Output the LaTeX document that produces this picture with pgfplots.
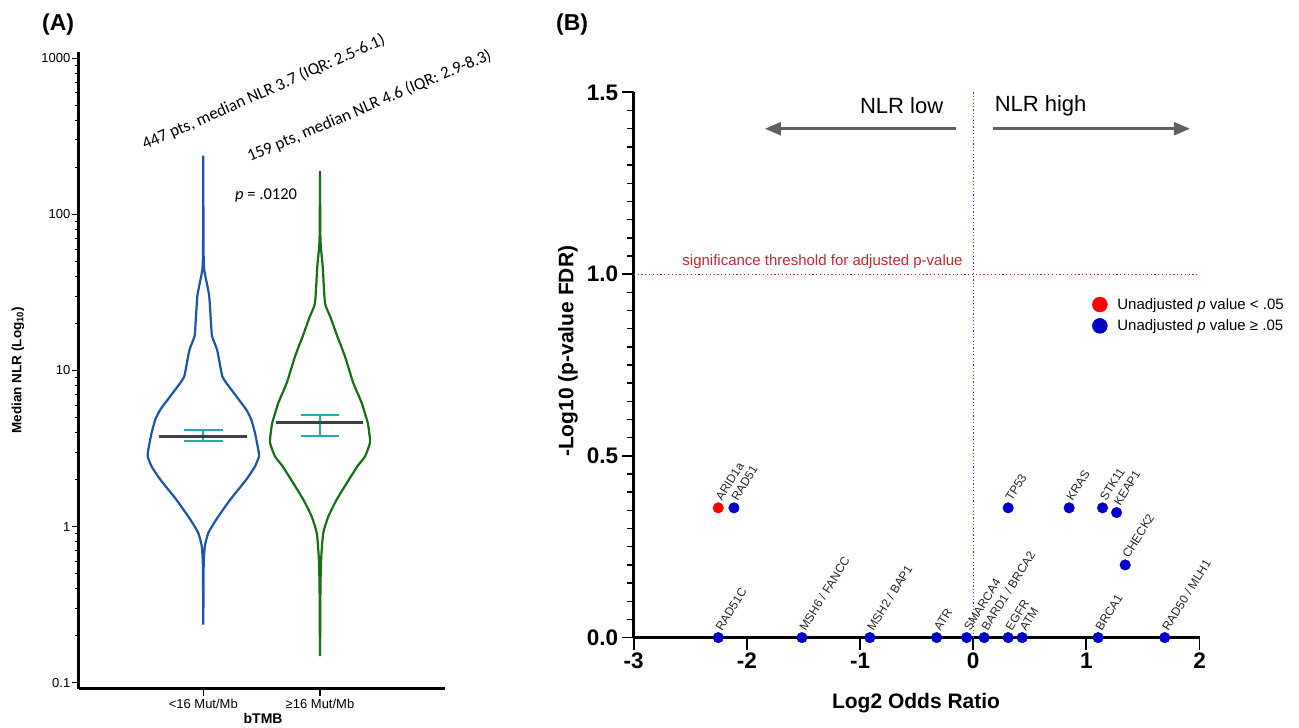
\documentclass[border=0pt]{standalone}
\usepackage{fontspec}
\setmainfont{Liberation Sans}
\newfontfamily\calib{Carlito}
\usepackage{pgfplots}
\usepackage{pgfplotstable}
\pgfplotsset{compat=1.18}
\usetikzlibrary{arrows.meta}

\definecolor{vblue}{RGB}{28,86,166}
\definecolor{vgreen}{RGB}{22,112,22}
\definecolor{eteal}{RGB}{35,170,170}
\definecolor{medgray}{RGB}{64,64,64}
\definecolor{ptblue}{RGB}{0,0,200}
\definecolor{ptred}{RGB}{255,0,0}
\definecolor{thrred}{RGB}{192,40,45}
\definecolor{arrgray}{RGB}{96,96,96}
\definecolor{zline}{RGB}{60,60,215}

% violin outline, group <16 Mut/Mb (x = position, y = NLR)
\pgfplotstableread{
x y
1.000 238
1.002 60
1.008 44.3
1.030 36.4
1.051 29.9
1.066 20.2
1.075 16.6
1.118 13.6
1.140 11.2
1.163 9.18
1.197 8.33
1.283 6.84
1.368 5.62
1.411 4.85
1.443 3.98
1.471 3.11
1.477 2.82
1.443 2.43
1.368 2.00
1.231 1.49
1.111 1.11
1.043 0.911
1.013 0.748
1.003 0.55
1.000 0.236
0.997 0.55
0.987 0.748
0.957 0.911
0.889 1.11
0.769 1.49
0.632 2.00
0.557 2.43
0.523 2.82
0.529 3.11
0.557 3.98
0.589 4.85
0.632 5.62
0.717 6.84
0.803 8.33
0.837 9.18
0.860 11.2
0.882 13.6
0.925 16.6
0.934 20.2
0.949 29.9
0.970 36.4
0.992 44.3
0.998 60
1.000 238
}\violinlow

% violin outline, group >=16 Mut/Mb
\pgfplotstableread{
x y
2.000 189
2.004 69
2.023 46.5
2.043 27.1
2.086 22.3
2.148 16.6
2.214 12.3
2.285 8.33
2.357 6.2
2.409 4.62
2.422 3.98
2.428 3.44
2.386 2.82
2.320 2.43
2.229 1.90
2.143 1.49
2.071 1.16
2.028 0.911
2.011 0.645
2.004 0.415
2.000 0.148
1.996 0.415
1.989 0.645
1.972 0.911
1.929 1.16
1.857 1.49
1.771 1.90
1.680 2.43
1.614 2.82
1.572 3.44
1.578 3.98
1.591 4.62
1.643 6.2
1.715 8.33
1.786 12.3
1.852 16.6
1.914 22.3
1.957 27.1
1.977 46.5
1.996 69
2.000 189
}\violinhigh

% volcano points
\pgfplotstableread{
x y label
-2.253 0.357 ARID1a
}\redpts

\pgfplotstableread{
x y label
-2.114 0.357 RAD51
0.309 0.357 TP53
0.848 0.357 KRAS
1.143 0.357 STK11
1.267 0.344 KEAP1
1.343 0.200 CHECK2
-2.253 0 RAD51C
-1.513 0 {MSH6 / FANCC}
-0.913 0 {MSH2 / BAP1}
-0.323 0 ATR
-0.058 0 SMARCA4
0.097 0 {BARD1 / BRCA2}
0.309 0 EGFR
0.433 0 ATM
1.104 0 BRCA1
1.693 0 {RAD50 / MLH1}
}\bluepts

\begin{document}
\begin{tikzpicture}[x=1pt,y=1pt]
\path[use as bounding box] (0,0) rectangle (1299,728);

% ---------------- Panel A ----------------
\begin{axis}[
  at={(79pt,39.3pt)}, anchor=south west, scale only axis,
  width=366pt, height=637pt,
  ymode=log, ymin=0.0916, ymax=1102,
  xmin=-0.065, xmax=3.071,
  axis lines=left,
  axis line style={line width=3pt,-},
  tick align=outside,
  xtick={1,2}, xticklabels={<16 Mut/Mb,≥16 Mut/Mb},
  ytick={0.1,1,10,100,1000}, yticklabels={0.1,1,10,100,1000},
  minor ytick={0.2,0.3,0.4,0.5,0.6,0.7,0.8,0.9,2,3,4,5,6,7,8,9,20,30,40,50,60,70,80,90,200,300,400,500,600,700,800,900},
  major tick length=7pt, minor tick length=4pt,
  tick style={line width=1.3pt,black},
  minor tick style={line width=1pt,black},
  tick label style={font=\fontsize{13}{15}\selectfont},
  yticklabel style={inner xsep=1.5pt},
  xlabel={\textbf{bTMB}},
  xlabel style={font=\fontsize{14}{16}\selectfont, at={(axis description cs:0.503,-0.046)}, anchor=center},
  ylabel={\textbf{Median NLR (Log\textsubscript{10})}},
  ylabel style={font=\fontsize{13.5}{15}\selectfont, at={(axis description cs:-0.167,0.5)}, anchor=center},
  clip=false,
]
\addplot[vblue, line width=2.2pt, smooth, tension=0.3] table[x=x,y=y]{\violinlow};
\addplot[vgreen, line width=2.2pt, smooth, tension=0.35] table[x=x,y=y]{\violinhigh};
% error bars (teal)
\addplot[eteal, line width=2pt] coordinates {(1,3.52) (1,4.14)};
\addplot[eteal, line width=2pt] coordinates {(0.835,4.14) (1.165,4.14)};
\addplot[eteal, line width=2pt] coordinates {(0.835,3.52) (1.165,3.52)};
\addplot[eteal, line width=2pt] coordinates {(2,3.82) (2,5.21)};
\addplot[eteal, line width=2pt] coordinates {(1.835,5.21) (2.165,5.21)};
\addplot[eteal, line width=2pt] coordinates {(1.835,3.82) (2.165,3.82)};
% medians
\addplot[medgray, line width=3pt] coordinates {(0.62,3.78) (1.375,3.78)};
\addplot[medgray, line width=3pt] coordinates {(1.623,4.65) (2.369,4.65)};
\end{axis}

\node[anchor=base west, inner sep=0pt, font=\fontsize{23}{26}\selectfont\bfseries] at (42,697) {(A)};
\node[anchor=base west, rotate=23.8, inner sep=0pt, font=\calib\fontsize{17}{20}\selectfont] at (145,578) {447 pts, median NLR 3.7 (IQR: 2.5-6.1)};
\node[anchor=base west, rotate=23, inner sep=0pt, font=\calib\fontsize{17}{20}\selectfont] at (250,566) {159 pts, median NLR 4.6 (IQR: 2.9-8.3)};
\node[anchor=base west, inner sep=0pt, font=\calib\fontsize{16.5}{19}\selectfont] at (235,528) {\textit{p} = .0120};

% ---------------- Panel B ----------------
\begin{axis}[
  at={(633.7pt,90.4pt)}, anchor=south west, scale only axis,
  width=565.8pt, height=545.2pt,
  xmin=-3, xmax=2, ymin=0, ymax=1.5,
  clip=false,
  axis lines=left,
  axis line style={line width=2.5pt,-},
  tick align=outside,
  xtick={-3,-2,-1,0,1,2},
  xticklabels={\textbf{-3},\textbf{-2},\textbf{-1},\textbf{0},\textbf{1},\textbf{2}},
  ytick={0,0.5,1,1.5},
  yticklabels={\textbf{0.0},\textbf{0.5},\textbf{1.0},\textbf{1.5}},
  minor y tick num=9,
  major tick length=12pt, minor tick length=7pt,
  tick style={line width=1.8pt,black},
  minor tick style={line width=1.5pt,black},
  tick label style={font=\fontsize{22.5}{25}\selectfont},
  xlabel={\textbf{Log2 Odds Ratio}},
  xlabel style={font=\fontsize{21}{24}\selectfont, at={(axis description cs:0.499,-0.12)}, anchor=center},
  ylabel={\textbf{-Log10 (p-value FDR)}},
  ylabel style={font=\fontsize{21}{24}\selectfont, at={(axis description cs:-0.116,0.525)}, anchor=center},
  legend style={at={(0.805,0.63)}, anchor=north west, draw=none, fill=none,
    font=\fontsize{15}{17}\selectfont, row sep=5pt,
    /tikz/every odd column/.append style={column sep=8pt}},
  legend cell align=left,
  legend image code/.code={\draw[#1, mark size=7.5pt] plot coordinates {(0pt,0pt)};},
]
\addplot[zline, line width=1.2pt, dash pattern=on 1.2pt off 2.2pt, forget plot] coordinates {(0,0) (0,1.5)};
\addplot[thrred, line width=1.2pt, dash pattern=on 1.2pt off 2.6pt, forget plot] coordinates {(-3,1) (2,1)};

\addplot[only marks, mark=*, mark size=5.3pt, color=ptred, mark options={draw=ptred, fill=ptred},
  nodes near coords, point meta=explicit symbolic,
  nodes near coords style={rotate=58, anchor=base west, inner xsep=7pt, inner ysep=0pt, text=black!85, font=\fontsize{12}{14}\selectfont}]
  table[x=x,y=y,meta=label]{\redpts};
\addlegendentry{Unadjusted \textit{p} value < .05}
\addplot[only marks, mark=*, mark size=5.3pt, color=ptblue, mark options={draw=ptblue, fill=ptblue},
  nodes near coords, point meta=explicit symbolic,
  nodes near coords style={rotate=58, anchor=base west, inner xsep=7pt, inner ysep=0pt, text=black!85, font=\fontsize{12}{14}\selectfont}]
  table[x=x,y=y,meta=label]{\bluepts};
\addlegendentry{Unadjusted \textit{p} value ≥ .05}

\draw[arrgray, line width=2.5pt, -{Triangle[length=16pt,width=13pt]}] (axis cs:-0.155,1.400) -- (axis cs:-1.840,1.400);
\draw[arrgray, line width=2.5pt, -{Triangle[length=16pt,width=13pt]}] (axis cs:0.174,1.400) -- (axis cs:1.915,1.400);
\node[font=\fontsize{22}{25}\selectfont] at (axis cs:-0.632,1.464) {NLR low};
\node[font=\fontsize{22}{25}\selectfont] at (axis cs:0.596,1.464) {NLR high};
\node[anchor=west, inner sep=0pt, text=thrred, font=\fontsize{15}{17}\selectfont] at (axis cs:-2.571,1.034) {significance threshold for adjusted p-value};
\end{axis}

\node[anchor=base west, inner sep=0pt, font=\fontsize{23}{26}\selectfont\bfseries] at (556,697) {(B)};
\end{tikzpicture}
\end{document}
